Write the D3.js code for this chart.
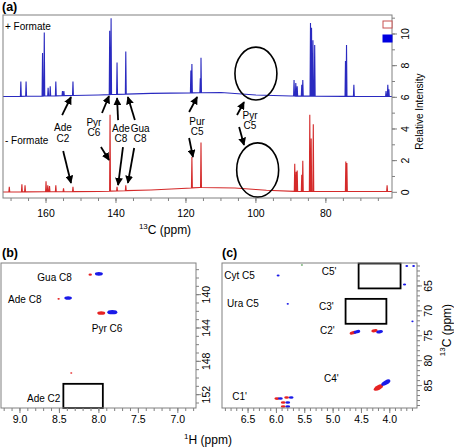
<!DOCTYPE html>
<html><head><meta charset="utf-8">
<script src="https://cdn.jsdelivr.net/npm/d3@7"></script>
<style>
body{margin:0;background:#fff}
svg{display:block}
text{font-family:Arial,"Liberation Sans",Helvetica,sans-serif;fill:#000}
</style>
</head><body>
<svg id="fig" width="454" height="447"></svg>
<script>
// ---------------- DATA ----------------
// Panel (a): 1D 13C spectra. Peaks: [ppm, relative intensity]
const blueBaseline = [[172.3,6.05],[160,6.08],[145,6.15],[130,6.25],[110,6.3],[100,6.15],[90,6.08],[75,6.06],[61.1,6.05]];
const bluePeaks = [
  [167.2,7.0],[165.7,7.0],[161.0,8.8],[160.5,10.1],[159.4,6.6],[158.8,6.7],[157.2,7.0],
  [155.3,6.4],[154.9,6.4],[152.3,7.0],[141.8,10.2],[141.4,11.0],[139.7,8.2],[137.2,8.9],
  [118.6,7.7],[118.3,8.1],[115.9,7.2],[115.7,8.5],[89.1,7.1],[88.6,6.9],[88.2,6.7],
  [86.9,6.8],[86.6,7.1],[84.4,10.7],[84.1,10.4],[83.7,9.6],[83.2,9.3],[74.4,8.3],[74.1,9.3],
  [72.0,6.8],[62.8,6.4],[62.3,6.8],[62.0,6.5]
];
const redBaseline = [[172.3,0.02],[145,0.05],[130,0.15],[116,0.3],[106,0.27],[97,0.13],[88,0.05],[61.1,0.05]];
const redPeaks = [
  [170.5,0.34],[166.9,0.5],[166.0,0.45],[160.0,0.7],[159.5,0.45],[159.0,0.4],[157.2,0.45],
  [155.0,0.25],[152.3,0.35],[141.7,4.9],[139.7,0.35],[137.2,0.45],[118.3,2.23],[115.7,3.15],
  [88.9,1.8],[88.5,1.3],[88.2,1.37],[86.9,1.1],[86.6,2.0],[84.6,4.9],[84.2,3.4],[83.6,4.3],
  [74.3,1.95],[74.0,1.85],[62.5,0.45]
];
const xTicksA = [160,140,120,100,80];
const yTicksA = [0,2,4,6,8,10];
// annotations of (a): label lines at [ppm, intensity]
const annLabels = [
  {t:["Ade","C2"], p:155.15, v:[4.12,3.43]},
  {t:["Pyr","C6"], p:146.3,  v:[4.44,3.75]},
  {t:["Ade","C8"], p:138.6,  v:[4.06,3.37]},
  {t:["Gua","C8"], p:133.1,  v:[4.06,3.37]},
  {t:["Pur","C5"], p:116.8,  v:[4.50,3.81]},
  {t:["Pyr","C5"], p:101.7,  v:[4.88,4.19]}
];
// arrows: [tailPpm, tailInt, headPpm, headInt]
const arrows = [
  [155.4,4.88,152.86,6.02],[155.1,2.61,152.86,0.59],
  [144.0,5.01,142.0,6.08],[144.3,2.86,142.0,2.04],
  [139.4,4.56,139.7,5.95],[138.0,2.86,139.4,0.46],
  [134.6,4.56,136.6,6.02],[134.8,2.80,136.6,0.59],
  [119.1,5.07,116.8,6.02],[119.1,3.43,118.0,2.23],
  [105.4,4.88,103.4,5.70],[104.8,4.13,103.4,2.99]
];
// circles: [centre ppm, centre intensity, half-width ppm, half-height intensity]
const circles = [[100.0,7.5,6.0,1.67],[99.5,1.41,6.0,1.71]];

// Panel (b): HSQC aromatic region. [1H ppm, 13C ppm, relative size]
const bRed  = [[8.11,137.6,0.18],[8.51,140.5,0.05],[7.97,142.2,0.75],[8.35,149.4,0.02]];
const bBlue = [[8.00,137.5,0.75],[8.39,140.4,0.7],[7.83,142.1,1.0]];
const bLabels = [["Gua C8",8.78,137.9],["Ade C8",9.15,140.6],["Pyr C6",8.09,144.0],["Ade C2",8.91,152.4]];
const bBox = [8.45,150.7,7.95,153.6];
const xTicksB = [9.0,8.5,8.0,7.5,7.0];
const yTicksB = [140,144,148,152];

// Panel (c): HSQC ribose region. [1H, 13C, size, tilt]
const cRed  = [[4.65,74.4,0.6,-15],[4.27,74.0,0.55,-10],[4.20,85.4,1.1,-28],
  [5.99,87.6,0.4,0],[5.82,87.4,0.35,0],[5.88,88.4,0.35,0],[5.88,89.2,0.35,0]];
const cBlue = [[4.58,74.2,0.6,-15],[4.18,74.2,0.6,-10],[4.07,84.4,1.0,-28],
  [5.93,87.6,0.35,0],[5.74,87.4,0.35,0],[5.80,88.4,0.35,0],[5.80,89.2,0.35,0],
  [5.97,62.9,0.12,0],[5.80,68.6,0.03,0],[3.70,61.0,0.1,0],[3.58,61.0,0.1,0],[3.74,64.7,0.15,0],[3.60,72.1,0.03,0]];
const cGreen = [[5.55,60.8,0.02,0]];
const cLabels = [["Cyt C5",6.92,63.0],["Ura C5",6.87,68.6],["C5'",5.20,62.2],["C3'",5.25,69.2],["C2'",5.23,73.85],["C4'",5.16,83.5],["C1'",6.78,87.1]];
const cBoxes = [[4.55,60.5,3.81,65.5],[4.78,67.6,4.06,72.6]];
const xTicksC = [6.5,6.0,5.5,5.0,4.5,4.0];
const yTicksC = [65,70,75,80,85];

// ---------------- DRAW ----------------
const svg = d3.select("#fig");
const BLUE_LINE = "#2a2ac0", RED_LINE = "#d42a2a";
const BLUE = "#1a1ae8", RED = "#e62222";
const FRAME = "#808080";

function frame(x0,y0,x1,y1){
  svg.append("rect").attr("x",x0).attr("y",y0).attr("width",x1-x0).attr("height",y1-y0)
    .attr("fill","none").attr("stroke",FRAME).attr("stroke-width",1);
}
function bottomTicks(xs, y, majors, minors, fmt, labelY){
  const g = svg.append("g");
  minors.forEach(v=>g.append("line").attr("x1",xs(v)).attr("x2",xs(v)).attr("y1",y).attr("y2",y+3).attr("stroke",FRAME));
  majors.forEach(v=>{
    g.append("line").attr("x1",xs(v)).attr("x2",xs(v)).attr("y1",y).attr("y2",y+5).attr("stroke",FRAME);
    g.append("text").attr("x",xs(v)).attr("y",labelY).attr("text-anchor","middle").attr("font-size",10.5).text(fmt(v));
  });
}
function rightTicks(ys, x, majors, minors, fmt, labelX){
  const g = svg.append("g");
  minors.forEach(v=>g.append("line").attr("x1",x).attr("x2",x+3).attr("y1",ys(v)).attr("y2",ys(v)).attr("stroke",FRAME));
  majors.forEach(v=>{
    g.append("line").attr("x1",x).attr("x2",x+5).attr("y1",ys(v)).attr("y2",ys(v)).attr("stroke",FRAME);
    g.append("text").attr("transform",`translate(${labelX},${ys(v)}) rotate(-90)`)
      .attr("text-anchor","middle").attr("dominant-baseline","central").attr("font-size",10.5).text(fmt(v));
  });
}
function range(a,b,step){const out=[];const n=Math.round((b-a)/step);for(let i=0;i<=n;i++)out.push(+(a+i*step).toFixed(3));return out;}

// ===== Panel (a)
const xA = d3.scaleLinear().domain([172.3,61.1]).range([3,392]);
const yA = d3.scaleLinear().domain([-0.36,11.2]).range([198,15]);
svg.append("clipPath").attr("id","clipA").append("rect").attr("x",3).attr("y",15).attr("width",389).attr("height",183);

function spectrum(knots, peaks){
  const base = d3.scaleLinear().domain(knots.map(d=>d[0])).range(knots.map(d=>d[1]));
  const pts = knots.map(d=>[d[0],d[1]]);
  peaks.forEach(([p,h])=>{ pts.push([p+0.13,base(p+0.13)],[p,h],[p-0.13,base(p-0.13)]); });
  pts.sort((a,b)=>b[0]-a[0]);
  return pts;
}
const line = d3.line().x(d=>xA(d[0])).y(d=>yA(d[1]));
const gA = svg.append("g").attr("clip-path","url(#clipA)");
gA.append("path").attr("d",line(spectrum(blueBaseline,bluePeaks))).attr("fill","none").attr("stroke",BLUE_LINE).attr("stroke-width",1.1);
gA.append("path").attr("d",line(spectrum(redBaseline,redPeaks))).attr("fill","none").attr("stroke",RED_LINE).attr("stroke-width",1.1);

frame(3,15,392,198);
bottomTicks(xA,198,xTicksA,range(65,170,5),d3.format("d"),217);
rightTicks(yA,392,yTicksA,range(1,11,1),d3.format("d"),405);

// legend swatches
svg.append("rect").attr("x",383).attr("y",21).attr("width",9).attr("height",7).attr("fill","#fff").attr("stroke","#c85050");
svg.append("rect").attr("x",383).attr("y",35).attr("width",9).attr("height",7).attr("fill","#0000e0").attr("stroke","#0000e0");

svg.append("text").attr("transform",`translate(419,${yA(5.1)}) rotate(-90)`).attr("text-anchor","middle")
  .attr("dominant-baseline","central").attr("font-size",10).text("Relative Intensity");

svg.append("text").attr("x",xA(172.3)+2).attr("y",yA(10.25)).attr("font-size",10).text("+ Formate");
svg.append("text").attr("x",xA(172.3)+2).attr("y",yA(3.05)).attr("font-size",10).text("- Formate");

// ellipses
circles.forEach(([p,v,dp,dv])=>{
  svg.append("ellipse").attr("cx",xA(p)).attr("cy",yA(v)).attr("rx",Math.abs(xA(p+dp)-xA(p))).attr("ry",Math.abs(yA(v+dv)-yA(v)))
    .attr("fill","none").attr("stroke","#000").attr("stroke-width",1.6);
});
// annotation labels
annLabels.forEach(a=>{
  a.t.forEach((s,i)=>svg.append("text").attr("x",xA(a.p)).attr("y",yA(a.v[i])).attr("text-anchor","middle")
    .attr("dominant-baseline","central").attr("font-size",10).text(s));
});
// arrows
svg.append("defs").append("marker").attr("id","ah").attr("viewBox","0 0 10 10").attr("refX",9).attr("refY",5)
  .attr("markerWidth",4.4).attr("markerHeight",4.4).attr("orient","auto").attr("markerUnits","strokeWidth")
  .append("path").attr("d","M0,0 L10,5 L0,10 Z").attr("fill","#000");
arrows.forEach(([p0,v0,p1,v1])=>{
  svg.append("line").attr("x1",xA(p0)).attr("y1",yA(v0)).attr("x2",xA(p1)).attr("y2",yA(v1))
    .attr("stroke","#000").attr("stroke-width",1.8).attr("marker-end","url(#ah)");
});
// x title
const tA = svg.append("text").attr("x",165).attr("y",234).attr("text-anchor","middle").attr("font-size",12);
tA.append("tspan").attr("font-size",8).attr("dy",-5).text("13");
tA.append("tspan").attr("dy",5).text("C (ppm)");

svg.append("text").attr("x",2).attr("y",11).attr("font-size",12.5).attr("font-weight","bold").text("(a)");

// ===== Panel (b)
const xB = d3.scaleLinear().domain([9.24,6.77]).range([1,196]);
const yB = d3.scaleLinear().domain([136.2,153.6]).range([263,408]);
svg.append("text").attr("x",2).attr("y",257).attr("font-size",12.5).attr("font-weight","bold").text("(b)");
svg.append("rect").attr("x",xB(bBox[0])).attr("y",yB(bBox[1])).attr("width",xB(bBox[2])-xB(bBox[0])).attr("height",yB(bBox[3])-yB(bBox[1]))
  .attr("fill","none").attr("stroke","#000").attr("stroke-width",1.8);
function peaks(xs,ys,data,color){
  data.forEach(([h,c,s,tilt])=>{
    svg.append("ellipse").attr("transform",`translate(${xs(h)},${ys(c)}) rotate(${tilt||0})`)
      .attr("rx",1+4*s).attr("ry",0.8+1.4*s).attr("fill",color);
  });
}
peaks(xB,yB,bRed,RED);
peaks(xB,yB,bBlue,BLUE);
bLabels.forEach(([t,h,c])=>svg.append("text").attr("x",xB(h)).attr("y",yB(c)).attr("dominant-baseline","central").attr("font-size",10).text(t));
frame(1,263,196,408);
bottomTicks(xB,408,xTicksB,range(6.8,9.2,0.1),d3.format(".1f"),423);
rightTicks(yB,196,yTicksB,range(137,153,1),d3.format("d"),206);

// ===== Panel (c)
const xC = d3.scaleLinear().domain([6.96,3.52]).range([222,417]);
const yC = d3.scaleLinear().domain([60.4,89.5]).range([263,408]);
svg.append("text").attr("x",222).attr("y",257).attr("font-size",12.5).attr("font-weight","bold").text("(c)");
cBoxes.forEach(b=>svg.append("rect").attr("x",xC(b[0])).attr("y",yC(b[1])).attr("width",xC(b[2])-xC(b[0])).attr("height",yC(b[3])-yC(b[1]))
  .attr("fill","none").attr("stroke","#000").attr("stroke-width",1.8));
peaks(xC,yC,cRed,RED);
peaks(xC,yC,cBlue,BLUE);
peaks(xC,yC,cGreen,"#5aa05a");
cLabels.forEach(([t,h,c])=>svg.append("text").attr("x",xC(h)).attr("y",yC(c)).attr("dominant-baseline","central").attr("font-size",10).text(t));
frame(222,263,417,408);
bottomTicks(xC,408,xTicksC,range(3.6,6.9,0.1),d3.format(".1f"),423);
rightTicks(yC,417,yTicksC,range(61,89,1),d3.format("d"),428);
const tC = svg.append("text").attr("transform","translate(447,330) rotate(-90)").attr("text-anchor","middle")
  .attr("dominant-baseline","central").attr("font-size",12);
tC.append("tspan").attr("font-size",8).attr("dy",-5).text("13");
tC.append("tspan").attr("dy",5).text("C (ppm)");

const tH = svg.append("text").attr("x",208).attr("y",444).attr("text-anchor","middle").attr("font-size",12);
tH.append("tspan").attr("font-size",8).attr("dy",-5).text("1");
tH.append("tspan").attr("dy",5).text("H (ppm)");
</script>
</body></html>
